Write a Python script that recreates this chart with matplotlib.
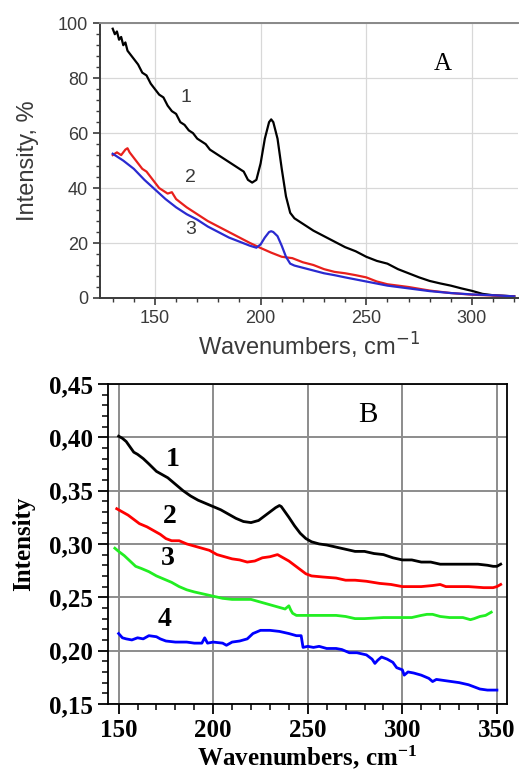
import matplotlib
matplotlib.use('Agg')
import matplotlib.pyplot as plt
from matplotlib.ticker import MultipleLocator

plt.rcParams['mathtext.fontset'] = 'custom'
plt.rcParams['mathtext.rm'] = 'Liberation Serif:bold'
plt.rcParams['mathtext.it'] = 'Liberation Serif:bold'
plt.rcParams['mathtext.bf'] = 'Liberation Serif:bold'

# ---- panel A data ----
a1_x = [130, 131, 132, 133, 134, 135, 136, 137, 138, 140, 142, 144, 146, 148, 150, 152, 154, 156, 158, 160,
        162, 164, 166, 168, 170, 172, 174, 176, 178, 180, 182, 184, 186, 188, 190, 192, 194, 196, 198, 200,
        202, 204, 205, 206, 208, 210, 212, 214, 216, 220, 225, 230, 235, 240, 245, 250, 255, 260, 265, 270,
        275, 280, 285, 290, 295, 300, 305, 310, 315, 320]
a1_y = [98, 96, 97, 94, 95, 92, 93, 90, 89, 87, 85, 82, 81, 78, 76, 74, 73, 70, 68, 67,
        64, 63, 61, 60, 58, 57, 56, 54, 53, 52, 51, 50, 49, 48, 47, 46, 43, 42, 43, 49,
        58, 64, 65, 64, 58, 47, 37, 31, 29, 27, 24.5, 22.5, 20.5, 18.5, 17, 15, 13.5, 12.5, 10.5, 9,
        7.5, 6.2, 5.3, 4.5, 3.5, 2.6, 1.5, 1.0, 0.8, 0.6]

a2_x = [130, 132, 134, 136, 137, 138, 140, 142, 144, 146, 148, 150, 152, 154, 156, 158, 160, 165, 170, 175,
        180, 185, 190, 195, 200, 205, 210, 215, 220, 225, 230, 235, 240, 245, 250, 255, 260, 265, 270, 280,
        290, 300, 310, 320]
a2_y = [52, 53, 52, 54, 54.5, 53, 51, 49, 47, 46, 44, 42, 40, 39, 38, 38.5, 36, 33, 30.5, 28,
        26, 24, 22, 20, 18.2, 16.5, 15, 14.5, 13, 12, 10.5, 9.5, 9, 8.3, 7.5, 6, 5, 4.5, 4, 2.7,
        1.8, 1.2, 0.9, 0.6]

a3_x = [130, 135, 140, 145, 150, 155, 160, 165, 170, 175, 180, 185, 190, 195, 198, 200, 202, 204, 205, 206,
        208, 210, 212, 214, 216, 220, 225, 230, 235, 240, 250, 260, 270, 280, 290, 300, 310, 320]
a3_y = [52.5, 50, 47, 43, 39.5, 36, 33, 30.5, 28.5, 26, 24, 22, 20.5, 19, 18.3, 19.5, 22, 24, 24.3, 24,
        22.5, 19, 15, 12.5, 11.8, 11, 10, 9, 8.3, 7.5, 6, 4.5, 3.5, 2.5, 1.8, 1.3, 1, 0.6]

# ---- panel B data ----
b1_x = [150, 152, 154, 156, 158, 160, 163, 166, 170, 173, 176, 180, 184, 188, 192, 196, 200, 204, 208, 212,
        216, 220, 224, 227, 230, 233, 235, 236, 238, 240, 243, 246, 249, 252, 256, 260, 265, 270, 275, 280,
        285, 290, 295, 300, 305, 310, 315, 320, 330, 340, 345, 348, 350, 352]
b1_y = [0.401, 0.399, 0.396, 0.391, 0.386, 0.384, 0.380, 0.375, 0.368, 0.365, 0.362, 0.356, 0.350, 0.345,
        0.341, 0.338, 0.335, 0.332, 0.328, 0.324, 0.321, 0.320, 0.322, 0.326, 0.330, 0.334, 0.336, 0.335,
        0.330, 0.325, 0.317, 0.310, 0.305, 0.302, 0.300, 0.299, 0.297, 0.295, 0.293, 0.293, 0.291, 0.290,
        0.287, 0.285, 0.285, 0.283, 0.283, 0.281, 0.281, 0.281, 0.280, 0.279, 0.279, 0.281]

b2_x = [149, 152, 155, 158, 161, 165, 168, 172, 175, 178, 182, 186, 190, 194, 198, 202, 206, 210, 214, 218,
        222, 226, 230, 234, 236, 238, 240, 243, 246, 249, 252, 258, 265, 270, 275, 281, 288, 294, 300, 310,
        316, 320, 323, 326, 335, 343, 348, 350, 352]
b2_y = [0.333, 0.330, 0.327, 0.323, 0.319, 0.316, 0.313, 0.309, 0.305, 0.303, 0.303, 0.300, 0.298, 0.296,
        0.294, 0.290, 0.288, 0.286, 0.285, 0.283, 0.284, 0.287, 0.288, 0.290, 0.288, 0.286, 0.284, 0.280,
        0.276, 0.272, 0.270, 0.269, 0.268, 0.266, 0.266, 0.265, 0.263, 0.262, 0.260, 0.260, 0.261, 0.262,
        0.260, 0.260, 0.260, 0.259, 0.259, 0.260, 0.262]

b3_x = [148, 150, 153, 156, 159, 162, 166, 170, 174, 178, 182, 186, 190, 195, 200, 205, 210, 215, 220, 224,
        228, 232, 236, 238, 240, 241, 242, 244, 247, 250, 255, 260, 265, 270, 275, 280, 290, 300, 305, 310,
        313, 316, 320, 325, 332, 336, 338, 341, 344, 347]
b3_y = [0.296, 0.293, 0.289, 0.284, 0.279, 0.277, 0.274, 0.270, 0.267, 0.264, 0.260, 0.257, 0.255, 0.253,
        0.251, 0.249, 0.248, 0.248, 0.248, 0.246, 0.244, 0.242, 0.240, 0.239, 0.242, 0.238, 0.235, 0.233,
        0.233, 0.233, 0.233, 0.233, 0.233, 0.232, 0.230, 0.230, 0.231, 0.231, 0.231, 0.233, 0.234, 0.234,
        0.232, 0.231, 0.231, 0.229, 0.230, 0.232, 0.233, 0.236]

b4_x = [150, 152, 154, 157, 160, 163, 166, 170, 172, 175, 180, 186, 190, 194, 195.5, 197, 200, 205, 207, 210,
        214, 218, 221, 225, 230, 235, 240, 244, 246.5, 247.5, 250, 253, 256, 260, 265, 268, 272, 276, 281, 284,
        285.5, 287, 289, 292, 295, 297, 300, 301, 303, 306, 310, 314, 316, 318, 322, 330, 335, 338, 341, 345,
        350]
b4_y = [0.216, 0.212, 0.211, 0.210, 0.212, 0.211, 0.214, 0.213, 0.211, 0.209, 0.208, 0.208, 0.207, 0.207,
        0.212, 0.207, 0.208, 0.207, 0.205, 0.208, 0.209, 0.211, 0.216, 0.219, 0.219, 0.218, 0.216, 0.214,
        0.214, 0.203, 0.204, 0.203, 0.204, 0.202, 0.202, 0.201, 0.198, 0.198, 0.196, 0.192, 0.188, 0.191,
        0.194, 0.192, 0.189, 0.184, 0.182, 0.177, 0.180, 0.179, 0.177, 0.174, 0.171, 0.173, 0.172, 0.170,
        0.168, 0.166, 0.164, 0.163, 0.163]

a_xticks = [150, 200, 250, 300]
a_yticks = [0, 20, 40, 60, 80, 100]
b_xticks = [150, 200, 250, 300, 350]
b_yticks = [0.15, 0.20, 0.25, 0.30, 0.35, 0.40, 0.45]
b_yticklabels = ['0,15', '0,20', '0,25', '0,30', '0,35', '0,40', '0,45']

fig = plt.figure(figsize=(5.21, 7.74), dpi=100)

# ================= panel A =================
txt = '#3a3a3a'
sans = 'Liberation Sans'
axA = fig.add_axes([0.192, 0.615, 0.803, 0.355])
axA.plot(a1_x, a1_y, color='black', lw=1.6)
axA.plot(a2_x, a2_y, color='#e8201c', lw=1.6)
axA.plot(a3_x, a3_y, color='#2a2ad0', lw=1.6)
axA.set_xlim(124, 322)
axA.set_ylim(0, 100)
axA.set_xticks(a_xticks)
axA.set_yticks(a_yticks)
axA.xaxis.set_minor_locator(MultipleLocator(10))
axA.yaxis.set_minor_locator(MultipleLocator(4))
axA.grid(True, color='#d8d8d8', lw=0.9)
axA.set_axisbelow(True)
for s in ['left', 'bottom']:
    axA.spines[s].set_color(txt)
    axA.spines[s].set_linewidth(1.4)
axA.spines['top'].set_color('#888888')
axA.spines['top'].set_linewidth(1.4)
axA.spines['right'].set_visible(False)
axA.tick_params(which='major', direction='out', length=5, width=1.2, color=txt,
                labelsize=13, labelcolor=txt)
axA.tick_params(which='minor', direction='out', length=3, width=1.0, color=txt)
for lab in axA.get_xticklabels() + axA.get_yticklabels():
    lab.set_fontfamily(sans)
axA.set_xlabel('Wavenumbers, cm$^{-1}$', fontsize=17, color=txt, family=sans,
               math_fontfamily='dejavusans', labelpad=3)
axA.set_ylabel('Intensity, %', fontsize=17, color=txt, family=sans, labelpad=14)
axA.text(164.5, 73, '1', fontsize=14, color=txt, family=sans, ha='center', va='center')
axA.text(167, 44, '2', fontsize=14, color=txt, family=sans, ha='center', va='center')
axA.text(167, 25, '3', fontsize=14, color=txt, family=sans, ha='center', va='center')
axA.text(286, 85, 'A', fontsize=18, family='Liberation Serif', ha='center', va='center')

# ================= panel B =================
serif = 'Liberation Serif'
axB = fig.add_axes([0.207, 0.0905, 0.766, 0.4135])
axB.plot(b1_x, b1_y, color='black', lw=2)
axB.plot(b2_x, b2_y, color='#ff0000', lw=2)
axB.plot(b3_x, b3_y, color='#22ee22', lw=2)
axB.plot(b4_x, b4_y, color='#0000ff', lw=2)
axB.set_xlim(144.3, 355.3)
axB.set_ylim(0.15, 0.45)
axB.set_xticks(b_xticks)
axB.set_yticks(b_yticks)
axB.set_yticklabels(b_yticklabels)
axB.xaxis.set_minor_locator(MultipleLocator(10))
axB.yaxis.set_minor_locator(MultipleLocator(0.01))
axB.grid(True, color='#8c8c8c', lw=1.4)
axB.set_axisbelow(True)
for s in axB.spines.values():
    s.set_color('black')
    s.set_linewidth(1.3)
axB.tick_params(which='major', direction='out', length=7, width=1.3)
axB.tick_params(which='minor', direction='out', length=4, width=1.1)
for lab in axB.get_xticklabels() + axB.get_yticklabels():
    lab.set_fontfamily(serif)
    lab.set_fontweight('bold')
    lab.set_fontsize(18)
axB.set_xlabel('Wavenumbers, cm$^{-1}$', fontsize=18, family=serif, fontweight='bold', labelpad=1)
axB.set_ylabel('Intensity', fontsize=18, family=serif, fontweight='bold', labelpad=10)
for lx, ly, lt in [(178.8, 0.379, '1'), (177, 0.3256, '2'), (176, 0.286, '3'), (174.4, 0.2288, '4')]:
    axB.text(lx, ly, lt, fontsize=20, family=serif, fontweight='bold', ha='center', va='center')
axB.text(282, 0.421, 'B', fontsize=21, family=serif, ha='center', va='center')

fig.savefig('out.png', dpi=100)
